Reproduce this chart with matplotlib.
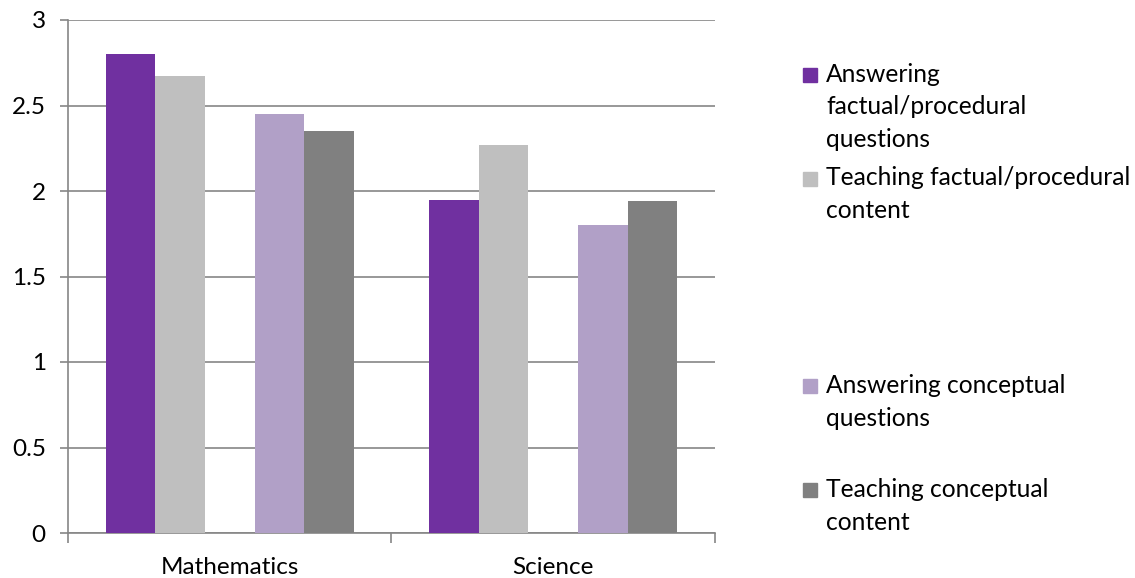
import matplotlib.pyplot as plt
from matplotlib.patches import Rectangle
import numpy as np

plt.rcParams['font.family'] = ['Lato', 'DejaVu Sans']

categories = ['Mathematics', 'Science']
series_names = ['Answering\nfactual/procedural\nquestions',
                'Teaching factual/procedural\ncontent',
                '',
                'Answering conceptual\nquestions',
                'Teaching conceptual\ncontent']
answering_factual = [2.80, 1.95]
teaching_factual = [2.67, 2.27]
empty_series = [0, 0]
answering_conceptual = [2.45, 1.80]
teaching_conceptual = [2.35, 1.94]
series_values = [answering_factual, teaching_factual, empty_series,
                 answering_conceptual, teaching_conceptual]
series_colors = ['#7030A0', '#BFBFBF', 'none', '#B1A0C7', '#808080']

W, H = 1135, 578
fig = plt.figure(figsize=(W / 100, H / 100), dpi=100)
ax = fig.add_axes([68 / W, 1 - 533 / H, (715 - 68) / W, (533 - 20) / H])

x = np.arange(len(categories))
bw = 0.1535
for i, (vals, col) in enumerate(zip(series_values, series_colors)):
    if col == 'none':
        continue
    ax.bar(x + (i - 2) * bw, vals, width=bw, color=col, zorder=3)

ax.set_xlim(-0.5, 1.5)
ax.set_ylim(0, 3)
ax.set_yticks(np.arange(0, 3.01, 0.5))
ax.set_yticklabels(['0', '0.5', '1', '1.5', '2', '2.5', '3'])
ax.yaxis.grid(True, color='#868686', linewidth=1.2, zorder=0)
ax.set_xticks(x)
ax.set_xticklabels(categories)
ax.set_xticks([-0.5, 0.5, 1.5], minor=True)
ax.tick_params(axis='x', which='major', length=0, pad=17, labelsize=17.5)
ax.tick_params(axis='x', which='minor', length=7, color='#868686', width=1.2)
ax.tick_params(axis='y', length=6, color='#868686', width=1.2, pad=10, labelsize=17.5)
for s in ['top', 'right']:
    ax.spines[s].set_visible(False)
for s in ['left', 'bottom']:
    ax.spines[s].set_color('#868686')
    ax.spines[s].set_linewidth(1.2)

# legend drawn by hand, entries evenly spaced with one blank slot
for k, (name, col) in enumerate(zip(series_names, series_colors)):
    if col == 'none':
        continue
    yc = 75 + k * 103.8
    fig.patches.append(Rectangle((803 / W, 1 - (yc + 7) / H), 14 / W, 14 / H,
                                 transform=fig.transFigure, color=col))
    fig.text(826 / W, 1 - (yc - 12.5) / H, name, fontsize=17.7, va='top',
             ha='left', linespacing=1.52)

fig.savefig('out.png', dpi=100)
